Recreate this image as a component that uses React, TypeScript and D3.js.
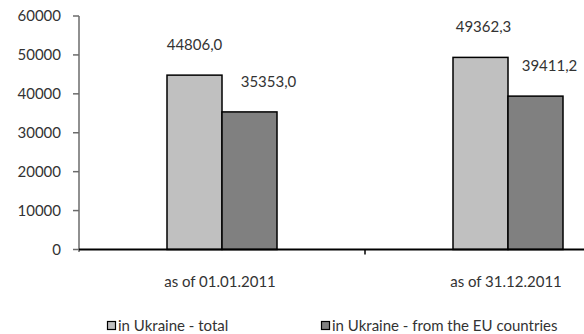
import React from "react";
import * as d3 from "d3";

const categories = ["as of 01.01.2011", "as of 31.12.2011"];
const seriesNames = ["in Ukraine - total", "in Ukraine - from the EU countries"];
const totalValues = [44806.0, 49362.3];
const euValues = [35353.0, 39411.2];
const valueLabels = [["44806,0", "35353,0"], ["49362,3", "39411,2"]];
const yTicks = [0, 10000, 20000, 30000, 40000, 50000, 60000];

const W = 584;
const H = 334;
const FONT = "Lato, 'Open Sans', sans-serif";
const colors = ["#C0C0C0", "#808080"];

export default function App() {
  const y = d3.scaleLinear().domain([0, 60000]).range([249.5, 16]);
  const x = d3.scaleBand<string>().domain(categories).range([79, 651]).paddingInner(0).paddingOuter(0);
  const xs = d3.scaleBand<string>().domain(seriesNames).range([-55, 55]);
  const labelDx = [[0, 19], [3, 14]];
  const series = [totalValues, euValues];

  return (
    <svg width={W} height={H} style={{ position: "absolute", left: 0, top: 0, background: "#fff" }}>
      {/* y axis */}
      <line x1={79} x2={79} y1={y(60000)} y2={252} stroke="#6b6b6b" strokeWidth={1.5} />
      {yTicks.map((t) => (
        <g key={t}>
          <line x1={73} x2={79} y1={y(t)} y2={y(t)} stroke="#6b6b6b" strokeWidth={1.5} />
          <text x={61} y={y(t)} dy="0.36em" textAnchor="end" fontFamily={FONT} fontSize={15} fill="#333">
            {t}
          </text>
        </g>
      ))}
      {/* bars */}
      {categories.map((c, ci) =>
        series.map((vals, si) => {
          const bx = x(c)! + x.bandwidth() / 2 + xs(seriesNames[si])!;
          const v = vals[ci];
          return (
            <g key={c + si}>
              <rect x={bx} y={y(v)} width={xs.bandwidth()} height={y(0) - y(v)} fill={colors[si]} stroke="#000" strokeWidth={1.5} />
              <text
                x={bx + xs.bandwidth() / 2 + labelDx[ci][si]}
                y={y(v) - 25}
                textAnchor="middle"
                fontFamily={FONT}
                fontSize={15}
                fill="#333"
              >
                {valueLabels[ci][si]}
              </text>
            </g>
          );
        })
      )}
      {/* x axis */}
      <line x1={79} x2={W} y1={y(0)} y2={y(0)} stroke="#000" strokeWidth={2} />
      {categories.map((c, ci) => (
        <g key={c}>
          {ci > 0 && <line x1={x(c)} x2={x(c)} y1={y(0)} y2={y(0) + 5} stroke="#000" strokeWidth={1.5} />}
          <text x={x(c)! + x.bandwidth() / 2 - 2} y={287} textAnchor="middle" fontFamily={FONT} fontSize={15} fill="#333">
            {c}
          </text>
        </g>
      ))}
      {/* legend */}
      {seriesNames.map((s, si) => {
        const lx = [107, 321][si];
        return (
          <g key={s}>
            <rect x={lx + 0.5} y={321.5} width={8} height={8} fill={colors[si]} stroke="#000" strokeWidth={1.2} />
            <text x={lx + 11} y={331} fontFamily={FONT} fontSize={15} fill="#333">
              {s}
            </text>
          </g>
        );
      })}
    </svg>
  );
}
